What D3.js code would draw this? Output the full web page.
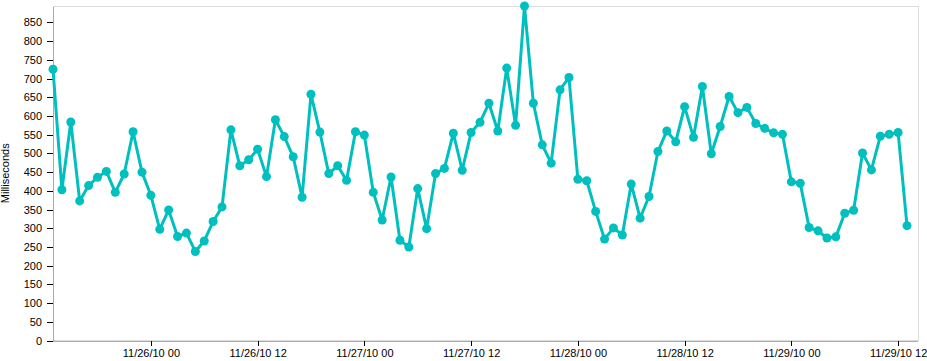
<!DOCTYPE html>
<html>
<head>
<meta charset="utf-8">
<script src="https://cdn.jsdelivr.net/npm/d3@7"></script>
<style>
  html, body { margin: 0; padding: 0; background: #fff; }
  svg { display: block; font-family: Arial, "Liberation Sans", sans-serif; }
</style>
</head>
<body>
<svg id="chart" width="927" height="361"></svg>
<script>
// ---- data ----
const startTime = "2010-11-25T13:00:00";   // first hourly sample
const stepHours = 1;
const milliseconds = [
  725, 403, 584, 373, 414, 436, 452, 396, 445, 558,
  450, 388, 297, 349, 278, 287, 238, 266, 318, 357,
  563, 467, 483, 511, 438, 590, 545, 491, 383, 658,
  557, 446, 467, 428, 558, 549, 396, 322, 437, 268,
  250, 406, 299, 446, 460, 554, 455, 556, 583, 634,
  560, 728, 575, 894, 634, 523, 474, 670, 703, 431,
  427, 345, 271, 301, 282, 418, 327, 385, 505, 560,
  531, 625, 543, 679, 499, 572, 652, 609, 623, 580,
  567, 555, 551, 424, 420, 302, 293, 274, 277, 340,
  348, 501, 456, 546, 551, 556, 307
];
const yTicks = [0,50,100,150,200,250,300,350,400,450,500,550,600,650,700,750,800,850];
const xTickHours = 12;
const yLabel = "Milliseconds";

// ---- build ----
const parse = d3.isoParse;
const t0 = parse(startTime);
const data = milliseconds.map((v, i) => ({ t: d3.timeHour.offset(t0, i * stepHours), v }));

const W = 927, H = 361;
const margin = { left: 53, top: 6, right: 9, bottom: 20.5 };
const iw = W - margin.left - margin.right;
const ih = H - margin.top - margin.bottom;

const svg = d3.select("#chart");
const g = svg.append("g").attr("transform", `translate(${margin.left},${margin.top})`);

const x = d3.scaleTime()
  .domain(d3.extent(data, d => d.t))
  .range([0, iw - 11]);
const y = d3.scaleLinear()
  .domain([0, d3.max(milliseconds)])
  .range([ih, 0]);

// frame (top & right)
g.append("rect")
  .attr("x", 0).attr("y", 0).attr("width", iw).attr("height", ih)
  .attr("fill", "none").attr("stroke", "#dcdcdc").attr("stroke-width", 1)
  .attr("shape-rendering", "crispEdges");

// y axis
const yAxis = g.append("g")
  .call(d3.axisLeft(y).tickValues(yTicks).tickSize(6).tickPadding(5).tickSizeOuter(0));
// x axis
const xAxis = g.append("g")
  .attr("transform", `translate(0,${ih})`)
  .call(d3.axisBottom(x)
    .ticks(d3.timeHour.every(xTickHours))
    .tickFormat(d3.timeFormat("%m/%d/%y %H"))
    .tickSize(5).tickPadding(4).tickSizeOuter(0));

[yAxis, xAxis].forEach(a => {
  a.select(".domain").attr("stroke", "#aaaaaa").attr("shape-rendering", "crispEdges");
  a.selectAll(".tick line").attr("stroke", "#000").attr("shape-rendering", "crispEdges");
  a.selectAll(".tick text").attr("fill", "#000").attr("font-size", 11)
    .attr("font-family", "Arial, 'Liberation Sans', sans-serif");
});
// x axis domain spans full width
xAxis.select(".domain").attr("d", `M0,0.5H${iw}`);

// y label
svg.append("text")
  .attr("transform", `translate(9,${margin.top + ih / 2}) rotate(-90)`)
  .attr("text-anchor", "middle")
  .attr("font-size", 11)
  .attr("fill", "#000")
  .text(yLabel);

// line
const color = "#00bfbf";
g.append("path")
  .datum(data)
  .attr("fill", "none")
  .attr("stroke", color)
  .attr("stroke-width", 3)
  .attr("stroke-linejoin", "round")
  .attr("d", d3.line().x(d => x(d.t)).y(d => y(d.v)));

g.selectAll("circle.pt")
  .data(data)
  .join("circle")
  .attr("class", "pt")
  .attr("cx", d => x(d.t))
  .attr("cy", d => y(d.v))
  .attr("r", 4.5)
  .attr("fill", color);
</script>
</body>
</html>
